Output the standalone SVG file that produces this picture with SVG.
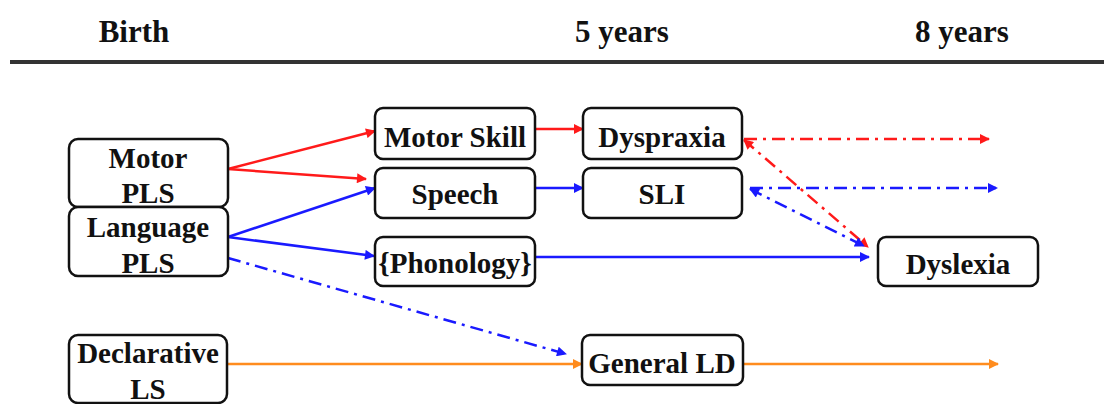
<svg xmlns="http://www.w3.org/2000/svg" width="1104" height="404" viewBox="0 0 1104 404">
<style>
.box{fill:#fff;stroke:#111;stroke-width:2.5}
.t{font-family:"Liberation Serif","Times New Roman",serif;font-weight:bold;font-size:29px;fill:#111;text-anchor:middle}
.h{font-family:"Liberation Serif","Times New Roman",serif;font-weight:bold;font-size:31px;fill:#111;text-anchor:middle}
.c{fill:none;stroke-width:2.5}
.r{stroke:#ff1a1a}
.b{stroke:#1a1aff}
.o{stroke:#ff8c1e}
.dd{stroke-dasharray:13 6 3 6}
</style>
<defs>
<marker id="ar" viewBox="0 0 10 10" refX="9" refY="5" markerWidth="4.5" markerHeight="4" orient="auto-start-reverse" markerUnits="strokeWidth"><path d="M0,0 L10,5 L0,10 z" fill="#ff1a1a"/></marker>
<marker id="ab" viewBox="0 0 10 10" refX="9" refY="5" markerWidth="4.5" markerHeight="4" orient="auto-start-reverse" markerUnits="strokeWidth"><path d="M0,0 L10,5 L0,10 z" fill="#1a1aff"/></marker>
<marker id="ao" viewBox="0 0 10 10" refX="9" refY="5" markerWidth="4.5" markerHeight="4" orient="auto-start-reverse" markerUnits="strokeWidth"><path d="M0,0 L10,5 L0,10 z" fill="#ff8c1e"/></marker>
</defs>
<g id="header">
<text class="h" x="134" y="42">Birth</text>
<text class="h" x="622" y="42">5 years</text>
<text class="h" x="962" y="42">8 years</text>
<line x1="10" y1="62" x2="1104" y2="62" stroke="#333" stroke-width="4"/>
</g>
<g id="connectors">
<line class="c r" x1="228" y1="169" x2="375" y2="131" marker-end="url(#ar)"/>
<line class="c r" x1="228" y1="169" x2="366" y2="179" marker-end="url(#ar)"/>
<line class="c r" x1="535" y1="129" x2="583" y2="129" marker-end="url(#ar)"/>
<line class="c b" x1="228" y1="237" x2="375" y2="188" marker-end="url(#ab)"/>
<line class="c b" x1="228" y1="237" x2="374" y2="256" marker-end="url(#ab)"/>
<line class="c b" x1="535" y1="188" x2="583" y2="188" marker-end="url(#ab)"/>
<line class="c b" x1="535" y1="257" x2="869" y2="257" marker-end="url(#ab)"/>
<line class="c b dd" x1="228" y1="258" x2="566" y2="354" marker-end="url(#ab)"/>
<line class="c o" x1="227" y1="364" x2="582" y2="364" marker-end="url(#ao)"/>
<line class="c o" x1="743" y1="364" x2="998" y2="364" marker-end="url(#ao)"/>
<line class="c r dd" x1="744" y1="139" x2="989" y2="139" marker-end="url(#ar)"/>
<line class="c b dd" x1="750" y1="188" x2="997" y2="188" marker-end="url(#ab)"/>
<line class="c r dd" x1="744" y1="140" x2="868" y2="247" marker-start="url(#ar)" marker-end="url(#ar)"/>
<line class="c b dd" x1="750" y1="189" x2="864" y2="246" marker-start="url(#ab)" marker-end="url(#ab)"/>
</g>
<g id="motor-pls">
<rect class="box" x="69" y="139" width="159" height="68" rx="9"/>
<text class="t" x="148" y="168">Motor</text>
<text class="t" x="148" y="203">PLS</text>
</g>
<g id="language-pls">
<rect class="box" x="69" y="207" width="159" height="69" rx="9"/>
<text class="t" x="148" y="237">Language</text>
<text class="t" x="148" y="273">PLS</text>
</g>
<g id="declarative-ls">
<rect class="box" x="69" y="335" width="158" height="68" rx="9"/>
<text class="t" x="148" y="363">Declarative</text>
<text class="t" x="148" y="399">LS</text>
</g>
<g id="motor-skill">
<rect class="box" x="375" y="108" width="160" height="51" rx="8"/>
<text class="t" x="455" y="147">Motor Skill</text>
</g>
<g id="speech">
<rect class="box" x="375" y="168" width="160" height="50" rx="8"/>
<text class="t" x="455" y="204">Speech</text>
</g>
<g id="phonology">
<rect class="box" x="375" y="237" width="160" height="49" rx="8"/>
<text class="t" x="455" y="273">{Phonology}</text>
</g>
<g id="dyspraxia">
<rect class="box" x="583" y="108" width="159" height="51" rx="8"/>
<text class="t" x="662" y="147">Dyspraxia</text>
</g>
<g id="sli">
<rect class="box" x="583" y="168" width="159" height="50" rx="8"/>
<text class="t" x="662" y="204">SLI</text>
</g>
<g id="general-ld">
<rect class="box" x="582" y="335" width="161" height="50" rx="8"/>
<text class="t" x="662" y="373">General LD</text>
</g>
<g id="dyslexia">
<rect class="box" x="878" y="237" width="160" height="49" rx="8"/>
<text class="t" x="958" y="274">Dyslexia</text>
</g>
</svg>
